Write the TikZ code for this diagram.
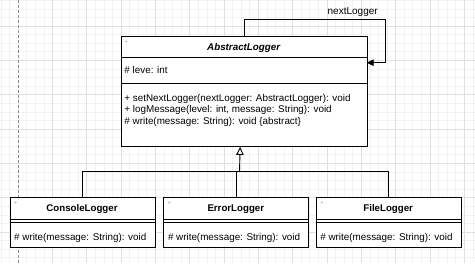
\documentclass[tikz,border=0pt]{standalone}
\usepackage{fontspec}
\setmainfont{Liberation Sans}
\usetikzlibrary{arrows.meta,calc}
\begin{document}
\begin{tikzpicture}[x=1pt,y=-1pt,
  classbox/.style={draw=black,line width=0.9pt,fill=white,rectangle,inner sep=0pt,anchor=north west},
  hdr/.style={font=\fontsize{9.7}{11}\selectfont\bfseries,inner sep=0pt},
  mem/.style={font=\fontsize{9.85}{11}\selectfont,inner sep=0pt,anchor=west},
  sep/.style={draw=black,line width=0.9pt},
  conn/.style={draw=black,line width=0.9pt},
  foldmark/.style={fill=gray!60,draw=none},
]
\useasboundingbox (0,0) rectangle (475,263);
\fill[white] (0,0) rectangle (475,263);
% grid
\foreach \i in {0,...,55} {\draw[line width=0.5pt,draw=black!5] (0.85+8.58*\i,0) -- (0.85+8.58*\i,263);}
\foreach \i in {0,...,30} {\draw[line width=0.5pt,draw=black!5] (0,0.26+8.58*\i) -- (475,0.26+8.58*\i);}
\foreach \i in {1,...,13} {\draw[line width=0.5pt,draw=black!12] (18+34.32*\i,0) -- (18+34.32*\i,263);}
\foreach \i in {0,...,7} {\draw[line width=0.5pt,draw=black!12] (0,26+34.32*\i) -- (475,26+34.32*\i);}
\draw[line width=0.6pt,draw=black!45,dash pattern=on 3pt off 2pt] (18,0) -- (18,263);

% AbstractLogger
\node[classbox,minimum width=246pt,minimum height=110.3pt] (abs) at (120.7,35.7) {};
\draw[sep] (120.7,57.3) -- (366.7,57.3);
\draw[sep] (120.7,83.3) -- (366.7,83.3);
\node[hdr,font=\fontsize{9.8}{11}\selectfont\bfseries\itshape] (absname) at (243.7,47.5) {AbstractLogger};
\node[mem] (absattr) at (124.3,70) {\# leve: int};
\node[mem] (absm1) at (124.3,99) {+ setNextLogger(nextLogger: AbstractLogger): void};
\node[mem] (absm2) at (124.3,110.3) {+ logMessage(level: int, message: String): void};
\node[mem] (absm3) at (124.3,121.6) {\# write(message: String): void \{abstract\}};
\fill[foldmark] (124.5,40.8) -- (127.5,40.8) -- (126,42.5) -- cycle;

% children
\node[classbox,minimum width=145pt,minimum height=50pt] (c1) at (9.5,196.6) {};
\node[classbox,minimum width=145pt,minimum height=50pt] (c2) at (163.3,196.6) {};
\node[classbox,minimum width=145pt,minimum height=50pt] (c3) at (315.7,196.6) {};
\foreach \c/\n/\x in {c1/ConsoleLogger/9.5, c2/ErrorLogger/163.3, c3/FileLogger/315.7} {
  \draw[sep] (\x,219.9) -- (\x+145,219.9);
  \draw[sep] (\x,222.5) -- (\x+145,222.5);
  \node[hdr] (\c name) at (\x+72.5,209) {\n};
  \node[mem] (\c m) at (\x+4.5,237.7) {\# write(message: String): void};
  \fill[foldmark] (\x+4.5,201.8) -- (\x+7.5,201.8) -- (\x+6,203.5) -- cycle;
}

% self association
\coordinate (loopa) at (385,19);
\coordinate (loopend) at (366.7,62.7);
\draw[conn,-{Triangle[length=7pt,width=6.5pt]}] (abs.north) |- (loopa) |- (loopend);
\node[font=\fontsize{10}{11}\selectfont,inner sep=0pt] (lbl) at (352.7,11.8) {nextLogger};

% inheritance
\coordinate (inh) at ($(abs.south)+(-4,0)$);
\coordinate (bus) at (239.5,171.7);
\draw[conn] (c1.north) |- (bus);
\draw[conn] (c3.north) |- (bus);
\draw[conn] (c2.north) -- (c2.north |- bus);
\draw[conn,-{Triangle[open,length=8pt,width=7.5pt,fill=white]}] (bus) -- (inh);
\end{tikzpicture}
\end{document}
